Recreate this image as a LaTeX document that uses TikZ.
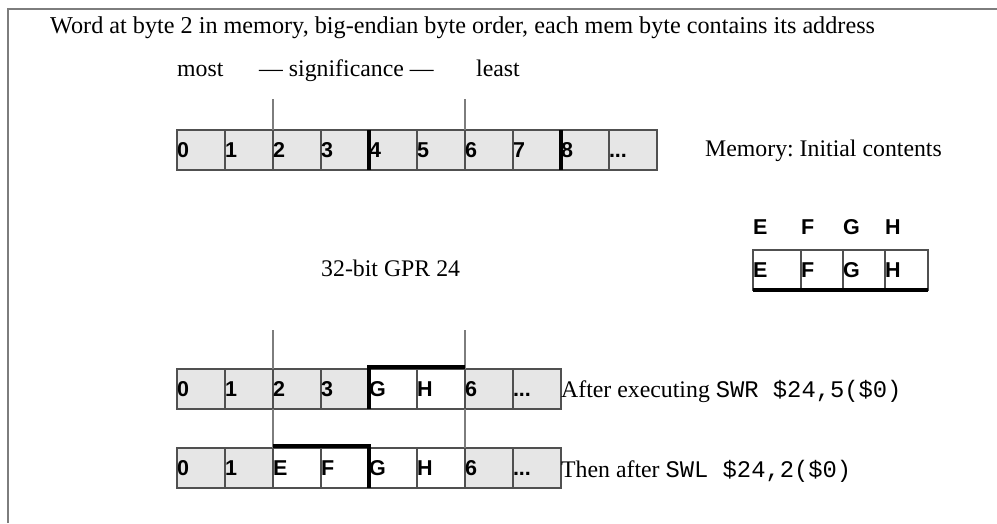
\documentclass[tikz,border=0pt]{standalone}
\usepackage{fontspec}
\setmainfont{Liberation Serif}
\setsansfont{Liberation Sans}
\setmonofont{Liberation Mono}
\frenchspacing
\definecolor{cellgray}{RGB}{230,230,230}
\definecolor{edgegray}{RGB}{80,80,80}
\definecolor{rulegray}{RGB}{125,125,125}
\tikzset{
  memfig/.style={x=1pt,y=-1pt,font=\fontsize{23.8}{28}\selectfont},
  bytebox/.style={draw=edgegray,fill=cellgray,line width=1.2pt,minimum height=40pt,
    text width=#1,inner xsep=0pt,inner ysep=0pt,outer sep=0pt,align=left,
    text height=15pt,text depth=0pt,
    anchor=north west,font=\fontsize{21.5}{24}\selectfont\sffamily\bfseries},
  bytebox/.default=48pt,
  regbox/.style={bytebox=#1,fill=white},
  regbox/.default=48pt,
  caption/.style={anchor=base west,inner sep=0pt},
  reglabel/.style={anchor=west,inner sep=0pt,font=\fontsize{21.5}{24}\selectfont\sffamily\bfseries},
  guide/.style={rulegray,line width=1.2pt},
  heavy/.style={black,line width=4pt}
}
\def\more{...}

\begin{document}
\begin{tikzpicture}[memfig]
    \useasboundingbox (0,0) rectangle (997,523);
    \draw[rulegray,line width=1.5pt] (8,523) -- (8,9) -- (997,9);
    % texts
    \node[caption,font=\fontsize{24.2}{28}\selectfont] (title) at (50,33) {Word at byte 2 in memory, big-endian byte order, each mem byte contains its address};
    \node[caption] (most) at (177,76) {most};
    \node[caption] (signif) at (259,76) {\textemdash\ significance \textemdash};
    \node[caption] (least) at (476,76) {least};
    \node[caption] (initial) at (705,156) {Memory: Initial contents};
    \node[caption] (gprname) at (321,276) {32-bit GPR 24};
    % guides
    \coordinate (ua) at (273,99);
    \coordinate (ub) at (465,99);
    \coordinate (la) at (273,330);
    \coordinate (lb) at (465,330);
    % memory, initial
    \foreach \lbl [count=\i from 0] in {0,1,2,3,4,5,6,7,8,\more}
      \node[bytebox] (m\i) at ({177+48*\i},130) {\lbl};
    \draw[guide] (ua) -- (m2.north west);
    \draw[guide] (ub) -- (m6.north west);
    \draw[heavy] (m4.north west) -- (m4.south west);
    \draw[heavy] (m8.north west) -- (m8.south west);
    % register
    \foreach \lbl/\x in {E/753,F/801,G/843,H/885}
      \node[reglabel] (t\lbl) at (\x,227) {\lbl};
    \node[regbox=48pt] (rE) at (753,250) {E};
    \node[regbox=42pt] (rF) at (801,250) {F};
    \node[regbox=42pt] (rG) at (843,250) {G};
    \node[regbox=43pt] (rH) at (885,250) {H};
    \draw[heavy,line cap=rect,shorten <=2pt,shorten >=2pt] (rE.south west) -- (rH.south east);
    % after SWR
    \foreach \lbl [count=\i from 0] in {0,1,2,3,G,H,6,\more}{
      \ifnum\i=4 \node[regbox] (a\i) at ({177+48*\i},369) {\lbl};
      \else\ifnum\i=5 \node[regbox] (a\i) at ({177+48*\i},369) {\lbl};
      \else \node[bytebox] (a\i) at ({177+48*\i},369) {\lbl};
      \fi\fi}
    \draw[guide] (la) -- (a2.north west);
    \draw[guide] (lb) -- (a6.north west);
    \draw[heavy] (a4.south west) -- ([yshift=2pt]a4.north west) -- ([yshift=2pt]a5.north east);
    \node[caption] (swr) at (561,397) {After executing \texttt{SWR \$24,5(\$0)}};
    % then after SWL
    \foreach \lbl [count=\i from 0] in {0,1,E,F,G,H,6,\more}{
      \ifnum\i<2 \node[bytebox] (b\i) at ({177+48*\i},448) {\lbl};
      \else\ifnum\i>5 \node[bytebox] (b\i) at ({177+48*\i},448) {\lbl};
      \else \node[regbox] (b\i) at ({177+48*\i},448) {\lbl};
      \fi\fi}
    \draw[guide] (a2.south west) -- (b2.north west);
    \draw[guide] (a6.south west) -- (b6.north west);
    \draw[heavy] ([yshift=2pt]b2.north west) -- ([yshift=2pt]b4.north west) -- (b4.south west);
    \node[caption] (swl) at (561,477) {Then after \texttt{SWL \$24,2(\$0)}};
\end{tikzpicture}
\end{document}
